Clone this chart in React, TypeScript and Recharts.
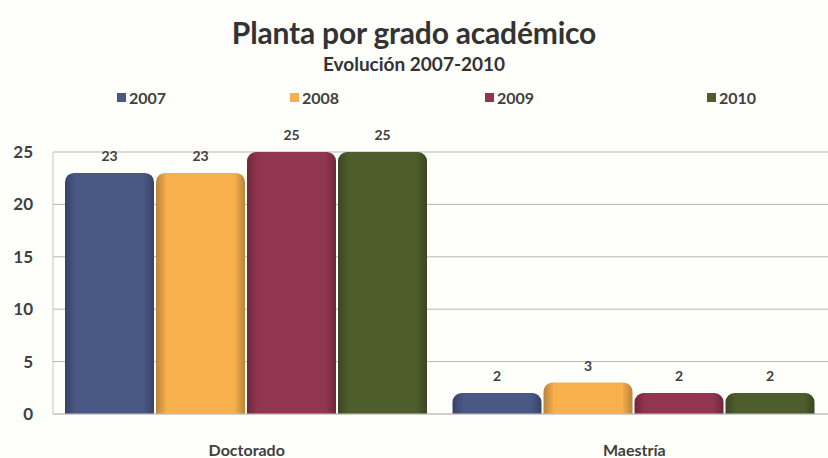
import React from "react";
import { Bar, BarChart, CartesianGrid, LabelList, XAxis, YAxis } from "recharts";

// Planta por grado académico, evolución 2007-2010

const categories = ["Doctorado", "Maestría"];
const years = ["2007", "2008", "2009", "2010"];
const values2007 = [23, 2];
const values2008 = [23, 3];
const values2009 = [25, 2];
const values2010 = [25, 2];
const yTicks = [0, 5, 10, 15, 20, 25];

const COLORS = ["#4a5886", "#f7b04c", "#923550", "#4e5d2c"];
const LEGEND_LEFT = [117, 290, 485, 707];
const TEXT = "#404040";
const FONT = "Lato, 'Open Sans', sans-serif";

const seriesValues = [values2007, values2008, values2009, values2010];
const data = categories.map((name, i) => {
  const row: Record<string, string | number> = { name };
  years.forEach((y, j) => {
    row[y] = seriesValues[j][i];
  });
  return row;
});

function shade(hex: string, f: number) {
  const n = parseInt(hex.slice(1), 16);
  const c = [(n >> 16) & 255, (n >> 8) & 255, n & 255].map((v) =>
    Math.max(0, Math.min(255, Math.round(f < 0 ? v * (1 + f) : v + (255 - v) * f)))
  );
  return `rgb(${c.join(",")})`;
}

export default function App() {
  return (
    <div style={{ position: "absolute", left: 0, top: 0, width: 828, height: 458, background: "#fefefb", fontFamily: FONT }}>
      <div style={{ position: "absolute", top: 14, width: 828, textAlign: "center", fontSize: 30, fontWeight: 700, color: "#333", letterSpacing: -0.2 }}>
        Planta por grado académico
      </div>
      <div style={{ position: "absolute", top: 52, width: 828, textAlign: "center", fontSize: 19, fontWeight: 700, color: "#333" }}>
        Evolución 2007-2010
      </div>
      {/* legend, spaced like the original */}
      {years.map((y, i) => (
        <span
          key={y}
          style={{
            position: "absolute",
            top: 88,
            left: LEGEND_LEFT[i],
            display: "flex",
            alignItems: "center",
            fontSize: 16,
            fontWeight: 700,
            color: TEXT,
          }}
        >
          <span style={{ width: 9, height: 9, background: COLORS[i], marginRight: 3, display: "inline-block" }} />
          {y}
        </span>
      ))}
      <BarChart
        width={828}
        height={458}
        data={data}
        margin={{ top: 152, right: 0, left: 0, bottom: 0 }}
        barCategoryGap={12}
        barGap={2}
        style={{ position: "absolute", left: 0, top: 0 }}
      >
        <defs>
          {COLORS.map((c, i) => (
            <linearGradient key={i} id={`g${i}`} x1="0" y1="0" x2="1" y2="0">
              <stop offset="0%" stopColor={shade(c, -0.25)} />
              <stop offset="12%" stopColor={c} />
              <stop offset="88%" stopColor={c} />
              <stop offset="100%" stopColor={shade(c, -0.25)} />
            </linearGradient>
          ))}
        </defs>
        <CartesianGrid stroke="#b9b5ad" vertical={false} />
        <XAxis
          dataKey="name"
          height={44}
          tickLine={false}
          tickMargin={25}
          axisLine={{ stroke: "#c9c4c4" }}
          tick={{ fill: TEXT, fontSize: 16, fontWeight: 700, fontFamily: FONT }}
        />
        <YAxis
          width={53}
          domain={[0, 25]}
          ticks={yTicks}
          tickLine={false}
          tickMargin={14}
          axisLine={{ stroke: "#c9c4c4" }}
          tick={{ fill: TEXT, fontSize: 17, fontWeight: 700, fontFamily: FONT }}
        />
        {years.map((y, i) => (
          <Bar key={y} dataKey={y} fill={`url(#g${i})`} radius={[9, 9, 0, 0]} isAnimationActive={false}>
            <LabelList dataKey={y} position="top" offset={12} fill={TEXT} fontSize={14} fontWeight={700} fontFamily={FONT} />
          </Bar>
        ))}
      </BarChart>
    </div>
  );
}
